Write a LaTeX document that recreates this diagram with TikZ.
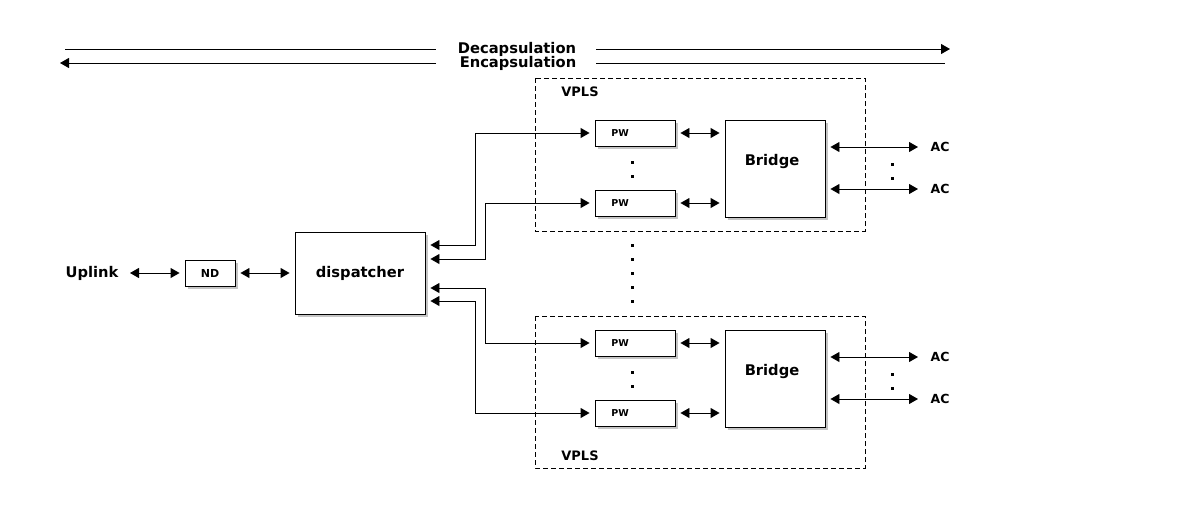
\documentclass[tikz,border=0pt]{standalone}
\usepackage{fontspec}
\setmainfont{DejaVu Sans}
\usetikzlibrary{arrows.meta,shadows}
\begin{document}
\begin{tikzpicture}[x=1pt,y=-1pt,
  every node/.style={font=\bfseries},
  shbox/.style={draw,line width=0.9pt,fill=white,inner sep=0pt,
    drop shadow={shadow xshift=2.5pt,shadow yshift=-2.5pt,opacity=0.45,fill=gray}},
  pwbox/.style={shbox,minimum width=80pt,minimum height=26pt,font=\bfseries\fontsize{9.5}{11}\selectfont},
  bridgebox/.style={shbox,minimum width=100pt,minimum height=97pt},
  vpls/.style={draw,line width=0.8pt,dash pattern=on 5pt off 3pt},
  dbl/.style={line width=0.9pt,{Triangle[length=9pt,width=10pt]}-{Triangle[length=9pt,width=10pt]},shorten <=5pt,shorten >=5pt},
  rarr/.style={line width=0.9pt,-{Triangle[length=9pt,width=10pt]}},
  plain/.style={line width=0.9pt},
  dotm/.style={fill=black},
  big/.style={font=\bfseries\fontsize{14.7}{16}\selectfont}
]
\useasboundingbox (0,0) rectangle (1180,504);
\fill[white] (0,0) rectangle (1180,504);

% top lines
\node[big] (dec) at (517,49) {Decapsulation};
\node[big] (enc) at (518,63) {Encapsulation};
\coordinate (decA) at (65,49);
\coordinate (decB) at (436,49);
\coordinate (decC) at (596,49);
\coordinate (decD) at (950,49);
\coordinate (encA) at (60,63);
\coordinate (encB) at (436,63);
\coordinate (encC) at (596,63);
\coordinate (encD) at (945,63);
\draw[plain] (decA) -- (decB);
\draw[rarr] (decC) -- (decD);
\draw[rarr] (encB) -- (encA);
\draw[plain] (encC) -- (encD);

% VPLS containers
\draw[vpls] (535,78) rectangle (865,231);
\draw[vpls] (535,316) rectangle (865,468);
\node[font=\bfseries\fontsize{13}{15}\selectfont] (vpls1) at (580,92) {VPLS};
\node[font=\bfseries\fontsize{13}{15}\selectfont] (vpls2) at (580,456) {VPLS};

% left part
\node[big] (uplink) at (92,273) {Uplink};
\coordinate (upR) at (125,273);
\node[shbox,minimum width=50pt,minimum height=26pt,font=\bfseries\fontsize{11}{12}\selectfont] (nd) at (210,273) {ND};
\node[shbox,minimum width=130pt,minimum height=82pt,big] (disp) at (360,273) {dispatcher};

% PW boxes and bridges
\node[pwbox] (pw1) at (635,133) {\hspace*{-30pt}PW};
\node[pwbox] (pw2) at (635,203) {\hspace*{-30pt}PW};
\node[pwbox] (pw3) at (635,343) {\hspace*{-30pt}PW};
\node[pwbox] (pw4) at (635,413) {\hspace*{-30pt}PW};
\node[bridgebox] (br1) at (775,168.5) {};
\node[bridgebox] (br2) at (775,378.5) {};
\node[big] (br1t) at (772,161) {Bridge};
\node[big] (br2t) at (772,371) {Bridge};

% AC labels
\node[font=\bfseries\fontsize{12.5}{14}\selectfont] (ac1) at (940,147) {AC};
\node[font=\bfseries\fontsize{12.5}{14}\selectfont] (ac2) at (940,189) {AC};
\node[font=\bfseries\fontsize{12.5}{14}\selectfont] (ac3) at (940,357) {AC};
\node[font=\bfseries\fontsize{12.5}{14}\selectfont] (ac4) at (940,399) {AC};
\coordinate (ac1L) at (923,147);
\coordinate (ac2L) at (923,189);
\coordinate (ac3L) at (923,357);
\coordinate (ac4L) at (923,399);

% connectors
\draw[dbl] (upR) -- (nd.west);
\draw[dbl] (nd.east) -- (disp.west);
\draw[dbl] (pw1.east) -- (pw1.east -| br1.west);
\draw[dbl] (pw2.east) -- (pw2.east -| br1.west);
\draw[dbl] (pw3.east) -- (pw3.east -| br2.west);
\draw[dbl] (pw4.east) -- (pw4.east -| br2.west);
\draw[dbl] (br1.east |- ac1L) -- (ac1L);
\draw[dbl] (br1.east |- ac2L) -- (ac2L);
\draw[dbl] (br2.east |- ac3L) -- (ac3L);
\draw[dbl] (br2.east |- ac4L) -- (ac4L);

\draw[dbl] (disp.east |- 0,245) -- (475,245) |- (pw1.west);
\draw[dbl] (disp.east |- 0,259) -- (485,259) |- (pw2.west);
\draw[dbl] (disp.east |- 0,288) -- (485,288) |- (pw3.west);
\draw[dbl] (disp.east |- 0,301) -- (475,301) |- (pw4.west);

% dots
\foreach \y in {161,175,371,385} \fill[dotm] (630.5,\y) rectangle ++(3,3);
\foreach \y in {163,177,373,387} \fill[dotm] (890.5,\y) rectangle ++(3,3);
\foreach \y in {244,258,272,286,300} \fill[dotm] (630.5,\y) rectangle ++(3,3);
\end{tikzpicture}
\end{document}
